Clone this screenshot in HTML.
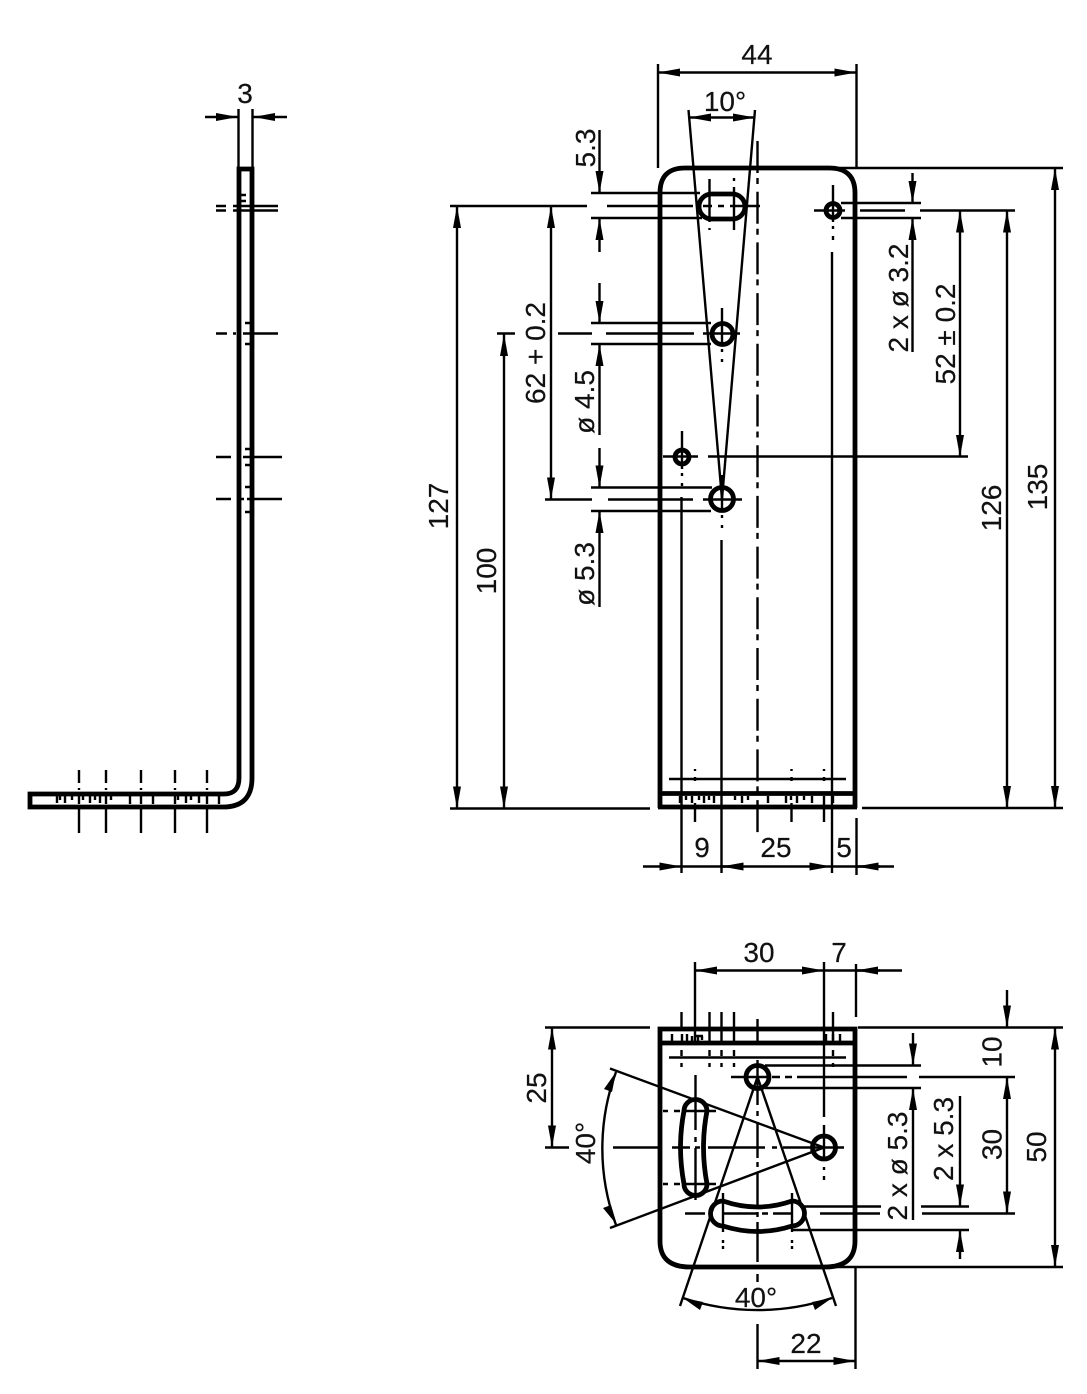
<!DOCTYPE html>
<html><head><meta charset="utf-8"><style>
html,body{margin:0;padding:0;background:#fff}
svg{display:block}
text{font-family:"Liberation Sans",sans-serif;font-size:28px;fill:#111;text-anchor:middle;stroke:#111;stroke-width:.2}
.t{fill:none;stroke:#000;stroke-width:2.4}
.h{fill:none;stroke:#000;stroke-width:4.8}
.a{fill:none;stroke:#000;stroke-width:2.4;marker-end:url(#m)}
.b{fill:none;stroke:#000;stroke-width:2.4;marker-start:url(#m);marker-end:url(#m)}
</style></head><body>
<svg width="1087" height="1394" viewBox="0 0 1087 1394" xmlns="http://www.w3.org/2000/svg">
<defs><marker id="m" markerUnits="userSpaceOnUse" viewBox="0 0 22 8" refX="22" refY="4" markerWidth="22" markerHeight="8" orient="auto-start-reverse"><path d="M0 0L22 4L0 8z" fill="#000"/></marker></defs>

<!-- SIDE VIEW -->
<path class="h" d="M239 778V169H252V778Q252 807 223 807H30V794H224Q239 794 239 778Z"/>
<path class="t" d="M238.500 109V168M252.500 109V168"/>
<path class="a" d="M205 117H238"/><path class="a" d="M287 117H253"/>
<text x="245" y="103">3</text>
<path class="t" d="M216 206H226M233 206H278M216 210.500H226M233 210.500H278M216 333.500H227M233 333.500H236M243 333.500H278M216 457H231M253 457H282M216 499H231M241 499H244M247 499H282"/>
<path class="t" d="M241 195H246M241 201H246M245 323H250M245 344H250M245 449H250M243 457H250M245 465H250M245 487H250M245 512H250"/>
<path class="t" d="M79 770V783M79 788V790M79 809V833M106 770V783M106 788V790M106 809V833M141 770V783M141 788V790M141 809V833M175 770V783M175 788V790M175 809V833M207 770V783M207 788V790M207 809V833"/>
<path class="t" d="M57 796V803M60 796V800M65 796V803M72 796V800M79 796V804M83 796V800M90 796V803M95 796V800M100 796V803M106 796V804M111 796V800M130 796V804M141 796V804M153 796V804M175 796V804M178 796V800M186 796V803M191 796V800M199 796V803M207 796V804M219 796V804"/>

<!-- FRONT VIEW -->
<path class="h" d="M660 808V193Q660 168 685 168H829Q855 168 855 193V808M658 807H857M660 793.500H855"/>
<!-- vertical centre line -->
<path class="t" stroke-dasharray="32 5 6 7.700" d="M757.500 141V833"/>
<!-- 44 -->
<path class="t" d="M658 64V168M856.500 64V168"/>
<path class="b" d="M658 72.500H856.500"/>
<text x="757" y="64">44</text>
<!-- 10 deg -->
<path class="t" d="M688.500 110L722 499M755 110L722 499"/>
<path class="b" d="M689 117.500H755"/>
<text x="725" y="111">10°</text>
<!-- slot -->
<rect class="h" x="699" y="194" width="46" height="25" rx="12.500"/>
<path class="t" d="M709.500 179V222M709.500 228V230M734 178V181M734 187V230M591 193H700M591 218H702M450 206H587M607 206H693M703 206H712M718 206H724M730 206H760"/>
<path class="a" d="M599.500 130V193"/><path class="a" d="M599.500 252V218"/>
<text transform="translate(595 148) rotate(-90)" x="0" y="0">5.3</text>
<!-- hole 4.5 -->
<circle class="h" cx="722.500" cy="334" r="10.500"/>
<path class="t" d="M591 323H711M591 344H711M497 333.500H515M558 333.500H592M606 333.500H694M703 333.500H740M722 308V345M722 349V352M722 359V362"/>
<path class="a" d="M599.500 283V323"/><path class="a" d="M599.500 435V344"/>
<text transform="translate(594 402) rotate(-90)" x="0" y="0">ø 4.5</text>
<!-- hole 5.3 -->
<circle class="h" cx="722" cy="499" r="11.500"/>
<path class="t" d="M591 487.500H712M591 511H711M545 499.500H592M608 499.500H693M703 499.500H742M722 475V512M722 515V518M722 525V528M721.500 540V873"/>
<path class="a" d="M599.500 448V487.500"/><path class="a" d="M599.500 607V511"/>
<text transform="translate(594 574) rotate(-90)" x="0" y="0">ø 5.3</text>
<!-- small hole left -->
<circle class="h" cx="682" cy="457" r="7"/>
<path class="t" d="M682 431V469M682 473V476M682 483V486M681.500 497V873M663 456.500H698M708 456.500H968"/>
<!-- small hole right -->
<circle class="h" cx="833" cy="210.500" r="7"/>
<path class="t" d="M833 185V222M833 226V229M833 236V240M832 252V873M814 210.500H845M860 210.500H905M920 210.500H1015M841 203H921M841 218H921"/>
<path class="a" d="M912.500 173V203"/><path class="a" d="M912.500 352V218"/>
<text transform="translate(908 298) rotate(-90)" x="0" y="0">2 x ø 3.2</text>
<!-- long dims right -->
<path class="b" d="M960 210.500V457"/>
<text transform="translate(955 334) rotate(-90)" x="0" y="0">52 ± 0.2</text>
<path class="b" d="M1007 210.500V808"/>
<text transform="translate(1001 508) rotate(-90)" x="0" y="0">126</text>
<path class="b" d="M1055 168V808"/>
<text transform="translate(1047 487) rotate(-90)" x="0" y="0">135</text>
<path class="t" d="M830 168H1063M862 808H1063"/>
<!-- long dims left -->
<path class="t" d="M450 808.500H650"/>
<path class="b" d="M457 206V808.500"/>
<text transform="translate(448 506) rotate(-90)" x="0" y="0">127</text>
<path class="b" d="M504 334V808.500"/>
<text transform="translate(496 571) rotate(-90)" x="0" y="0">100</text>
<path class="b" d="M551 206V499.500"/>
<text transform="translate(545 353) rotate(-90)" x="0" y="0">62 + 0.2</text>
<!-- bottom of front -->
<path class="t" d="M669 779H846M695 769V771M695 777V781M695 803V822M791.500 769V771M791.500 777V781M791.500 803V822M824 769V771M824 777V781M824 803V822M856.500 818V875"/>
<path class="t" d="M680 796V803M686 796V800M692 796V803M699 796V800M704 796V803M709 796V800M714 796V803M735 796V800M742 796V803M748 796V800M768 796V803M786 796V803M791 796V800M797 796V803M804 796V800M812 796V803M824 796V803M833 796V803"/>
<path class="a" d="M643 866.500H681.500"/><path class="t" d="M681.500 866.500H810"/>
<path class="a" d="M743 866.500H721.500"/><path class="a" d="M810 866.500H831.500"/>
<path class="t" d="M832 866.500H880"/><path class="a" d="M894 866.500H856.500"/>
<text x="702" y="857">9</text><text x="776" y="857">25</text><text x="844" y="857">5</text>

<!-- BOTTOM VIEW -->
<path class="h" d="M660 1029V1241Q660 1267 690 1267H825Q855 1267 855 1241V1029ZM660 1043H855"/>
<!-- dims top -->
<path class="t" d="M695 962V1045M824 962V1117M856 964V1017M681.500 1012V1028M709.500 1012V1045M721.500 1012V1045M734 1012V1045M833 1012V1040M757.500 1019V1045"/>
<path class="b" d="M695 970.500H824"/>
<path class="t" d="M824 970.500H880"/><path class="a" d="M902 970.500H856"/>
<text x="759" y="962">30</text><text x="839" y="962">7</text>
<path class="t" d="M669 1057.500H846M681.500 1050V1056M681.500 1063V1067M709.500 1050V1056M709.500 1063V1067M721.500 1050V1056M721.500 1063V1067M734 1050V1056M734 1063V1067M833 1050V1056M833 1063V1067"/>
<path class="t" d="M672 1034V1042M682 1034V1042M687 1034V1042M692 1036V1042M698 1035V1042M702 1036V1040M833 1034V1042M826 1034V1042M840 1034V1042M695 1036H703"/>
<!-- holes -->
<circle class="h" cx="757.500" cy="1077" r="11.500"/>
<circle class="h" cx="824" cy="1147.500" r="11.500"/>
<path class="t" d="M731 1077H771M772 1077H780M785 1077H792M797 1077H907M919 1077H1015M765 1065.500H921M765 1088H921"/>
<path class="t" d="M757.500 1060V1105M757.500 1111V1116M757.500 1122V1158M757.500 1162V1167M757.500 1172V1208M757.500 1212V1217M757.500 1222V1262M757.500 1274V1282M824 1125V1160M824 1167V1170M824 1176V1180"/>
<!-- angle lines -->
<path class="t" d="M757.500 1077L680 1306M757.500 1077L836 1306M824 1147.500L610 1068.500M824 1147.500L610 1228"/>
<path class="t" d="M683 1298A236 236 0 0 0 832 1298"/>
<path d="M683 1298L703 1302L700 1310ZM832 1298L812 1302L815 1310Z" fill="#000"/>
<path class="t" d="M616 1072A221 221 0 0 0 616 1225"/>
<path d="M616 1072L612 1092L604 1089ZM617 1225L603 1208L611 1205Z" fill="#000"/>
<text x="756" y="1307">40°</text>
<text transform="translate(595 1143) rotate(-90)" x="0" y="0">40°</text>
<!-- left slot -->
<path class="h" d="M684 1111A11.500 11.500 0 0 1 707 1111Q700 1147 707 1184A11.500 11.500 0 0 1 684 1184Q677 1147 684 1111Z"/>
<path class="t" d="M663 1111H668M674 1111H680M686 1111H716M663 1184H668M674 1184H680M686 1184H716M695.500 1075V1130M695.500 1137V1142M695.500 1148V1200M545 1147.500H569M613 1147.500H662M672 1147.500H690M695 1147.500H700M708 1147.500H765M772 1147.500H777M783 1147.500H844"/>
<!-- bottom slot -->
<path class="h" d="M723 1201Q757.500 1213 792 1201A12.500 12.500 0 0 1 792 1226Q757.500 1237 723 1226A12.500 12.500 0 0 1 723 1201Z"/>
<path class="t" d="M723 1193V1232M792 1193V1232M723 1240V1243M723 1246V1249M792 1240V1243M792 1246V1249M685 1213.500H705M722 1213.500H757M762 1213.500H768M773 1213.500H792M820 1213.500H880M922 1213.500H1015M800 1206.500H881M921 1206.500H969M793 1230H969"/>
<!-- right dims -->
<path class="t" d="M858 1027.500H1063M830 1267H1063M545 1027.500H650"/>
<path class="a" d="M913 1033V1065.500"/><path class="a" d="M913 1220V1088"/>
<text transform="translate(907 1166) rotate(-90)" x="0" y="0">2 x ø 5.3</text>
<path class="a" d="M960 1096V1206.500"/><path class="a" d="M960 1259V1230"/>
<text transform="translate(953 1139) rotate(-90)" x="0" y="0">2 x 5.3</text>
<path class="a" d="M1007 990V1027.500"/>
<path class="b" d="M1007 1077V1213.500"/>
<text transform="translate(1001.500 1052) rotate(-90)" x="0" y="0">10</text>
<text transform="translate(1001.500 1144.500) rotate(-90)" x="0" y="0">30</text>
<path class="b" d="M1055 1027.500V1267"/>
<text transform="translate(1046 1147) rotate(-90)" x="0" y="0">50</text>
<path class="b" d="M552 1027.500V1147.500"/>
<text transform="translate(546 1088) rotate(-90)" x="0" y="0">25</text>
<!-- 22 -->
<path class="t" d="M757.500 1324V1369M855.500 1267V1369"/>
<path class="b" d="M757.500 1361H855.500"/>
<text x="806" y="1353">22</text>
</svg>
</body></html>
